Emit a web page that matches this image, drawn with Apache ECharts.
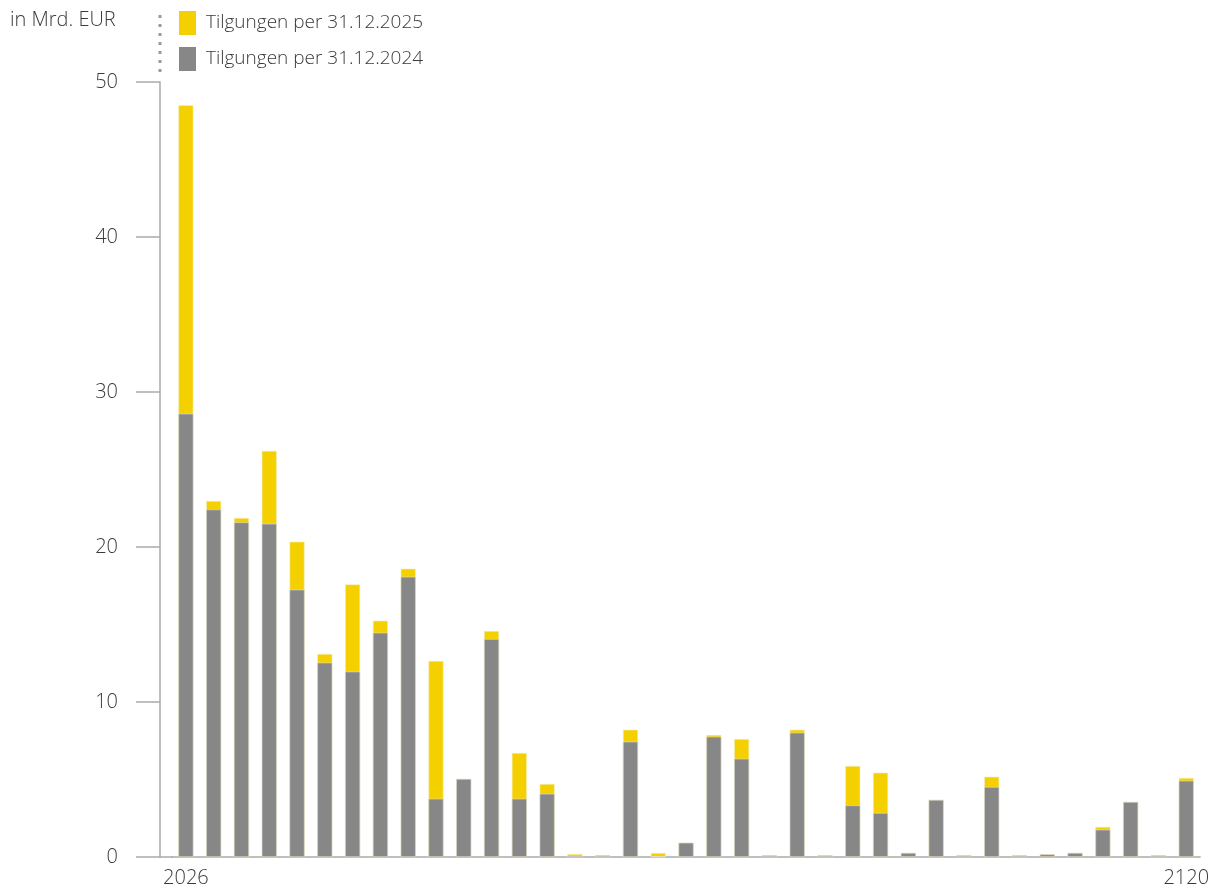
<!DOCTYPE html>
<html>
<head>
<meta charset="utf-8">
<script src="https://cdn.jsdelivr.net/npm/echarts@6/dist/echarts.min.js"></script>
<style>
html,body{margin:0;padding:0;background:#fff;}
#chart{width:1212px;height:888px;}
</style>
</head>
<body>
<div id="chart"></div>
<script>
// Categories (maturity years); only first and last are labelled in the source
const years = ['2026','2027','2028','2029','2030','2031','2032','2033','2034','2035',
  '2036','2037','2038','2039','2040','2041','2042','2043','2044','2045',
  '2046','2047','2048','2049','2050','2051','2052','2053','2054','2055',
  '2056','2057','2058','2059','2060','2061','2120'];

// Tilgungen per 31.12.2025 (yellow, drawn behind)
const tilgungen2025 = [48.5, 22.97, 21.87, 26.2, 20.34, 13.1, 17.59, 15.25, 18.6, 12.65,
  5.03, 14.58, 6.71, 4.71, 0.19, 0.1, 8.21, 0.26, 0.92, 7.87,
  7.61, 0.1, 8.21, 0.1, 5.87, 5.44, 0.26, 3.68, 0.1, 5.18,
  0.1, 0.17, 0.26, 1.94, 3.55, 0.1, 5.1];

// Tilgungen per 31.12.2024 (grey, drawn in front)
const tilgungen2024 = [28.6, 22.42, 21.59, 21.5, 17.25, 12.54, 11.96, 14.47, 18.08, 3.76,
  5.03, 14.06, 3.76, 4.08, 0.09, 0.1, 7.44, 0.04, 0.92, 7.76,
  6.34, 0.1, 8.02, 0.1, 3.33, 2.84, 0.26, 3.68, 0.1, 4.52,
  0.1, 0.17, 0.26, 1.76, 3.55, 0.1, 4.92];

const yTicks = [0, 10, 20, 30, 40, 50];

const FONT = '"Open Sans", "Noto Sans", sans-serif';
const TEXT = '#3a3a3a';
const chart = echarts.init(document.getElementById('chart'), null, {renderer: 'canvas'});

chart.setOption({
  animation: false,
  backgroundColor: '#ffffff',
  title: {
    text: 'in Mrd. EUR',
    left: 10, top: 10, padding: 0,
    textStyle: {fontFamily: FONT, fontWeight: 300, fontSize: 20, color: TEXT}
  },
  legend: {
    orient: 'vertical',
    left: 179, top: 11, padding: 0,
    itemWidth: 17, itemHeight: 24, itemGap: 12,
    icon: 'rect',
    itemStyle: {borderWidth: 0},
    formatter: function (name) { return '\u00a0' + name; },
    textStyle: {fontFamily: FONT, fontWeight: 300, fontSize: 19, lineHeight: 24, color: TEXT},
    data: ['Tilgungen per 31.12.2025', 'Tilgungen per 31.12.2024']
  },
  grid: {left: 172, right: 7, top: 82, bottom: 31, containLabel: false},
  xAxis: {
    type: 'category',
    data: years,
    axisLine: {show: true, lineStyle: {color: '#aaaaaa', width: 1.5}},
    axisTick: {show: false},
    axisLabel: {
      interval: function (i) { return i === 0 || i === years.length - 1; },
      margin: 11,
      fontFamily: FONT, fontWeight: 300, fontSize: 20, color: TEXT
    }
  },
  yAxis: {
    type: 'value',
    min: yTicks[0], max: yTicks[yTicks.length - 1], interval: 10,
    offset: 12,
    axisLine: {show: true, lineStyle: {color: '#aaaaaa', width: 1.5}},
    axisTick: {show: true, inside: false, length: 24, lineStyle: {color: '#aaaaaa', width: 1.5}},
    axisLabel: {margin: 42, fontFamily: FONT, fontWeight: 300, fontSize: 20, color: TEXT},
    splitLine: {show: false}
  },
  graphic: [
    {
      type: 'line',
      shape: {x1: 160, y1: 15, x2: 160, y2: 78},
      style: {stroke: '#9a9a9a', lineWidth: 3, lineDash: [3, 6]}
    },
    {
      type: 'line',
      shape: {x1: 160, y1: 857, x2: 173, y2: 857},
      style: {stroke: '#aaaaaa', lineWidth: 1.5}
    }
  ],
  series: [
    {
      name: 'Tilgungen per 31.12.2025',
      type: 'bar',
      data: tilgungen2025,
      barWidth: 15,
      barGap: '-100%',
      itemStyle: {color: '#F5D000', borderColor: '#f3eeb8', borderWidth: 0.6},
      z: 2
    },
    {
      name: 'Tilgungen per 31.12.2024',
      type: 'bar',
      data: tilgungen2024,
      barWidth: 15,
      barGap: '-100%',
      itemStyle: {color: '#878787', borderColor: '#dcdcdc', borderWidth: 0.6},
      z: 3
    }
  ]
});
</script>
</body>
</html>
